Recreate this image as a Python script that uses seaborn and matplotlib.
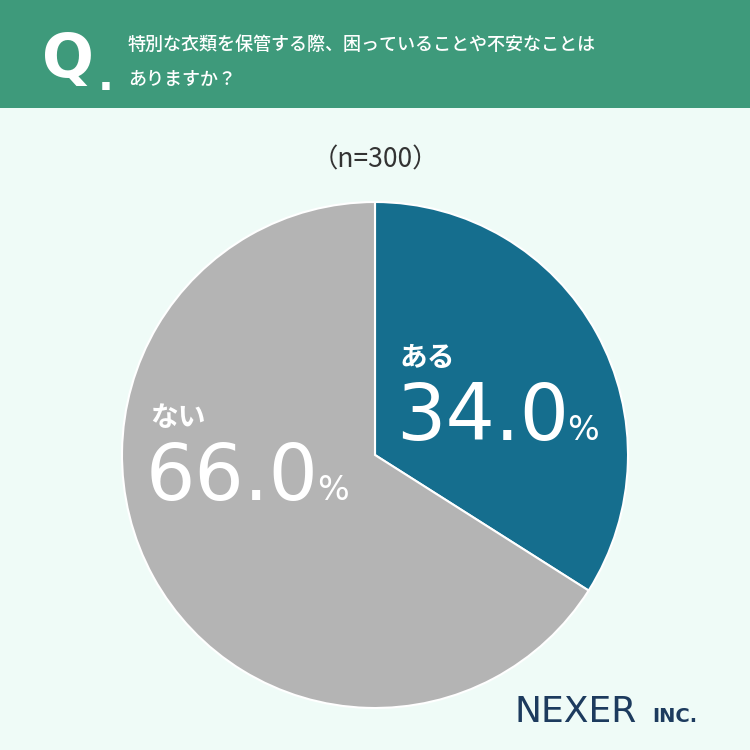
import matplotlib
matplotlib.use("Agg")
import matplotlib.pyplot as plt
import seaborn as sns

sns.set_theme(style="white")
plt.rcParams['font.family'] = ['Noto Sans CJK JP', 'DejaVu Sans']

labels = ["ある", "ない"]
values = [34.0, 66.0]
colors = ["#156e8e", "#b4b4b4"]
title_lines = ["特別な衣類を保管する際、困っていることや不安なことは", "ありますか？"]

fig = plt.figure(figsize=(7.5, 7.5), dpi=100)
fig.patch.set_facecolor("#effbf7")
W = H = 750
def fx(x): return x / W
def fy(y): return 1 - y / H

hdr = fig.add_axes([0, fy(108), 1, 108 / H])
hdr.set_facecolor("#3e9a7b"); hdr.set_xticks([]); hdr.set_yticks([])
for s in hdr.spines.values(): s.set_visible(False)

fig.text(fx(42), fy(60), "Q", color="white", fontsize=44, fontweight="bold", va="center", family="DejaVu Sans")
fig.text(fx(98), fy(78), ".", color="white", fontsize=30, fontweight="bold", va="center", family="DejaVu Sans")
fig.text(fx(128), fy(45), title_lines[0], color="white", fontsize=13, va="center", fontweight="medium")
fig.text(fx(128), fy(80), title_lines[1], color="white", fontsize=13, va="center", fontweight="medium")

fig.text(0.5, fy(160), "（n=300）", color="#333333", fontsize=19, ha="center", va="center")

r = 253
ax = fig.add_axes([fx(375 - r), fy(455 + r), 2 * r / W, 2 * r / H])
ax.pie(values, colors=colors, startangle=90, counterclock=False,
       wedgeprops=dict(linewidth=1.5, edgecolor="white"))
ax.set_xlim(-1, 1); ax.set_ylim(-1, 1); ax.set_aspect("equal"); ax.axis("off")

def lab(x, y, name, v):
    fig.text(fx(x), fy(y - 60), name, color="white", fontsize=20, va="center", fontweight="bold")
    fig.text(fx(x - 4), fy(y), f"{v:.1f}", color="white", fontsize=56, va="center", family="DejaVu Sans")
lab(400, 418, labels[0], values[0])
fig.text(fx(567), fy(430), "%", color="white", fontsize=24, va="center", family="DejaVu Sans")
lab(150, 478, labels[1], values[1])
fig.text(fx(317), fy(490), "%", color="white", fontsize=24, va="center", family="DejaVu Sans")

fig.text(fx(515), fy(712), "NEXER", color="#1d3b5e", fontsize=26, va="center", family="DejaVu Sans")
fig.text(fx(652), fy(716), "INC.", color="#1d3b5e", fontsize=14, va="center", family="DejaVu Sans", fontweight="bold")

fig.savefig("out.png", dpi=100, facecolor=fig.get_facecolor())
